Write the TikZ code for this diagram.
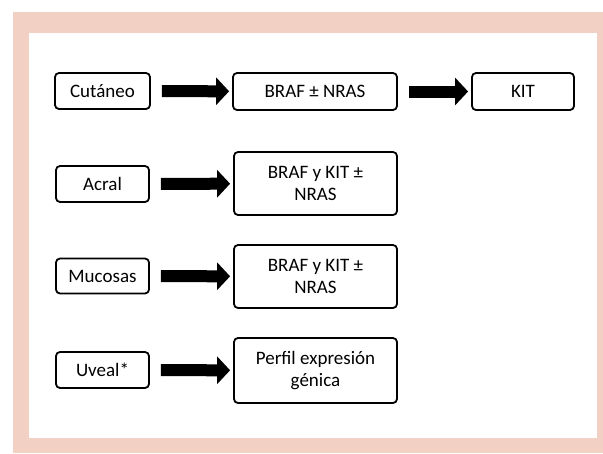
\documentclass[tikz,border=0pt]{standalone}
\usepackage{fontspec}
\setmainfont{Carlito}
\usepackage{tikz}
\usetikzlibrary{arrows.meta, positioning}
\definecolor{salmon}{RGB}{242,209,196}

\begin{document}
\begin{tikzpicture}[x=1pt, y=-1pt,
  box/.style={draw, line width=1.8pt, rounded corners=4pt, align=center, inner sep=0pt,
    font=\fontsize{19}{22}\selectfont},
  fat/.style={line width=12pt, -{Triangle[length=13pt,width=27pt]}, shorten <=11pt, shorten >=3pt}]
\useasboundingbox (0,0) rectangle (603,453);
\fill[salmon] (13,12) rectangle (603,453);
\fill[white] (29,33) rectangle (597,438);
\node[box, minimum width=95pt, minimum height=36pt] (cut) at (102.5,91) {Cutáneo};
\node[box, minimum width=164pt, minimum height=37pt] (cutm) at (315,91.5) {BRAF ± NRAS};
\node[box, minimum width=102pt, minimum height=37pt] (kit) at (523,91.5) {KIT};
\node[box, minimum width=93pt, minimum height=36pt] (acr) at (102.5,184) {Acral};
\node[box, minimum width=163pt, minimum height=63pt] (acrm) at (315.5,183.5) {BRAF y KIT ±\\NRAS};
\node[box, minimum width=93pt, minimum height=35pt] (muc) at (102.5,276) {Mucosas};
\node[box, minimum width=163pt, minimum height=63pt] (mucm) at (315.5,276.5) {BRAF y KIT ±\\NRAS};
\node[box, minimum width=93pt, minimum height=36pt] (uve) at (102.5,370) {Uveal*};
\node[box, minimum width=163pt, minimum height=65pt] (uvem) at (315.5,370.5) {Perfil expresión\\génica};
\draw[fat] (cut) -- (cutm);
\draw[fat] (cutm) -- (kit);
\draw[fat] (acr) -- (acrm);
\draw[fat] (muc) -- (mucm);
\draw[fat] (uve) -- (uvem);
\end{tikzpicture}
\end{document}
